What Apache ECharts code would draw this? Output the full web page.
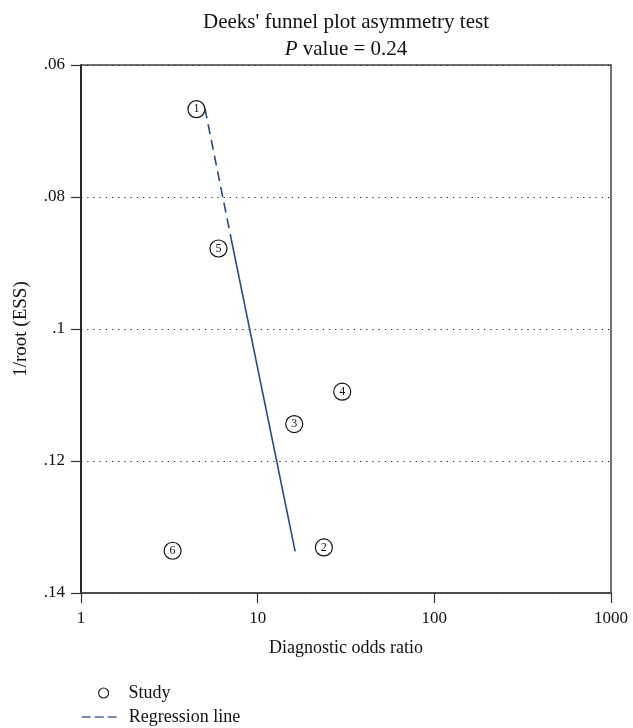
<!DOCTYPE html>
<html>
<head>
<meta charset="utf-8">
<style>html,body{margin:0;padding:0;background:#fff;}#c{width:633px;height:728px;}</style>
<script src="https://cdn.jsdelivr.net/npm/echarts@6/dist/echarts.min.js"></script>
</head>
<body>
<div id="c"></div>
<script>
// Study points: diagnostic odds ratio (x, log scale) and 1/root(ESS) (y)
const studyLabels = ['1', '2', '3', '4', '5', '6'];
const studyDOR = [4.5, 23.7, 16.1, 30.1, 6.0, 3.3];
const studyInvRootESS = [0.0667, 0.1331, 0.1144, 0.1095, 0.0878, 0.1336];
// Regression line: dashed upper part, solid lower part
const regDashedX = [5.03, 7.1];
const regDashedY = [0.0666, 0.0865];
const regSolidX = [7.1, 16.3];
const regSolidY = [0.0865, 0.1337];
// Axis ticks
const yTicks = [0.06, 0.08, 0.10, 0.12, 0.14];
const yTickLabels = ['.06', '.08', '.1', '.12', '.14'];
const xTicks = [1, 10, 100, 1000];
const xTickLabels = ['1', '10', '100', '1000'];

const FONT = "'Liberation Serif', 'DejaVu Serif', serif";
const chart = echarts.init(document.getElementById('c'), null, {renderer: 'canvas'});

const scatterData = studyDOR.map((x, i) => ({value: [x, studyInvRootESS[i]], name: studyLabels[i]}));
const legendText = {fontFamily: FONT, fontSize: 18, color: '#111'};

chart.setOption({
  animation: false,
  backgroundColor: '#fff',
  grid: {left: 81, right: 22, top: 65, bottom: 135, show: true, borderColor: '#444', borderWidth: 1.5, containLabel: false},
  graphic: [{
    type: 'text', x: 346, y: 9,
    style: {
      text: "{a|Deeks' funnel plot asymmetry test}\n{i|P}{a| value = 0.24}",
      align: 'center',
      rich: {
        a: {fontFamily: FONT, fontSize: 21, lineHeight: 27, fill: '#111'},
        i: {fontFamily: FONT, fontSize: 21, lineHeight: 27, fontStyle: 'italic', fill: '#111'}
      }
    }
  }],
  legend: [
    {
      orient: 'horizontal', left: 98, top: 684, padding: 0, itemWidth: 10, itemHeight: 10,
      textStyle: Object.assign({padding: [0, 0, 0, 15]}, legendText),
      data: [{name: 'Study', icon: 'circle', itemStyle: {color: '#fff', borderColor: '#222', borderWidth: 1.2}}]
    },
    {
      orient: 'horizontal', left: 81, top: 708, padding: 0, itemWidth: 37, itemHeight: 10,
      textStyle: Object.assign({padding: [0, 0, 0, 5]}, legendText),
      data: [{name: 'Regression line', itemStyle: {opacity: 0}, lineStyle: {color: '#4a6890', width: 1.5, type: [9, 4]}}]
    }
  ],
  xAxis: {
    type: 'log', logBase: 10, min: 1, max: 1000,
    name: 'Diagnostic odds ratio', nameLocation: 'middle', nameGap: 46,
    nameTextStyle: {fontFamily: FONT, fontSize: 18, color: '#111'},
    axisLine: {show: true, onZero: false, lineStyle: {color: '#444', width: 1.5}},
    axisTick: {show: true, length: 10, lineStyle: {color: '#333', width: 1.2}},
    minorTick: {show: false},
    splitLine: {show: false},
    axisLabel: {
      margin: 17, fontFamily: FONT, fontSize: 17, color: '#111',
      formatter: v => { const i = xTicks.findIndex(t => Math.abs(t - v) < 1e-6 * t); return i >= 0 ? xTickLabels[i] : ''; }
    }
  },
  yAxis: {
    type: 'value', inverse: true, min: 0.06, max: 0.14, interval: 0.02,
    name: '1/root (ESS)', nameLocation: 'middle', nameGap: 50, nameRotate: 90,
    nameTextStyle: {fontFamily: FONT, fontSize: 19, color: '#111'},
    axisLine: {show: true, lineStyle: {color: '#111', width: 1.5}},
    axisTick: {show: true, length: 10, lineStyle: {color: '#333', width: 1.2}},
    splitLine: {show: true, lineStyle: {color: '#222', width: 1.2, type: [1.2, 5]}},
    axisLabel: {
      margin: 16, fontFamily: FONT, fontSize: 17, color: '#111',
      formatter: v => { const i = yTicks.findIndex(t => Math.abs(t - v) < 1e-6); return i >= 0 ? yTickLabels[i] : ''; }
    }
  },
  series: [
    {
      name: 'Regression line', type: 'line', symbol: 'none', z: 2,
      data: regDashedX.map((x, i) => [x, regDashedY[i]]),
      lineStyle: {color: '#274a7c', width: 1.6, type: [10, 6]},
      itemStyle: {color: '#274a7c'}
    },
    {
      name: 'Regression solid', type: 'line', symbol: 'none', z: 2,
      data: regSolidX.map((x, i) => [x, regSolidY[i]]),
      lineStyle: {color: '#274a7c', width: 1.6, type: 'solid'}
    },
    {
      name: 'Study', type: 'scatter', symbol: 'circle', symbolSize: 17, z: 3,
      data: scatterData,
      itemStyle: {color: '#fff', borderColor: '#111', borderWidth: 1.2, opacity: 1},
      label: {show: true, position: 'inside', formatter: p => p.name, fontFamily: FONT, fontSize: 12, color: '#111'}
    }
  ]
});
</script>
</body>
</html>
